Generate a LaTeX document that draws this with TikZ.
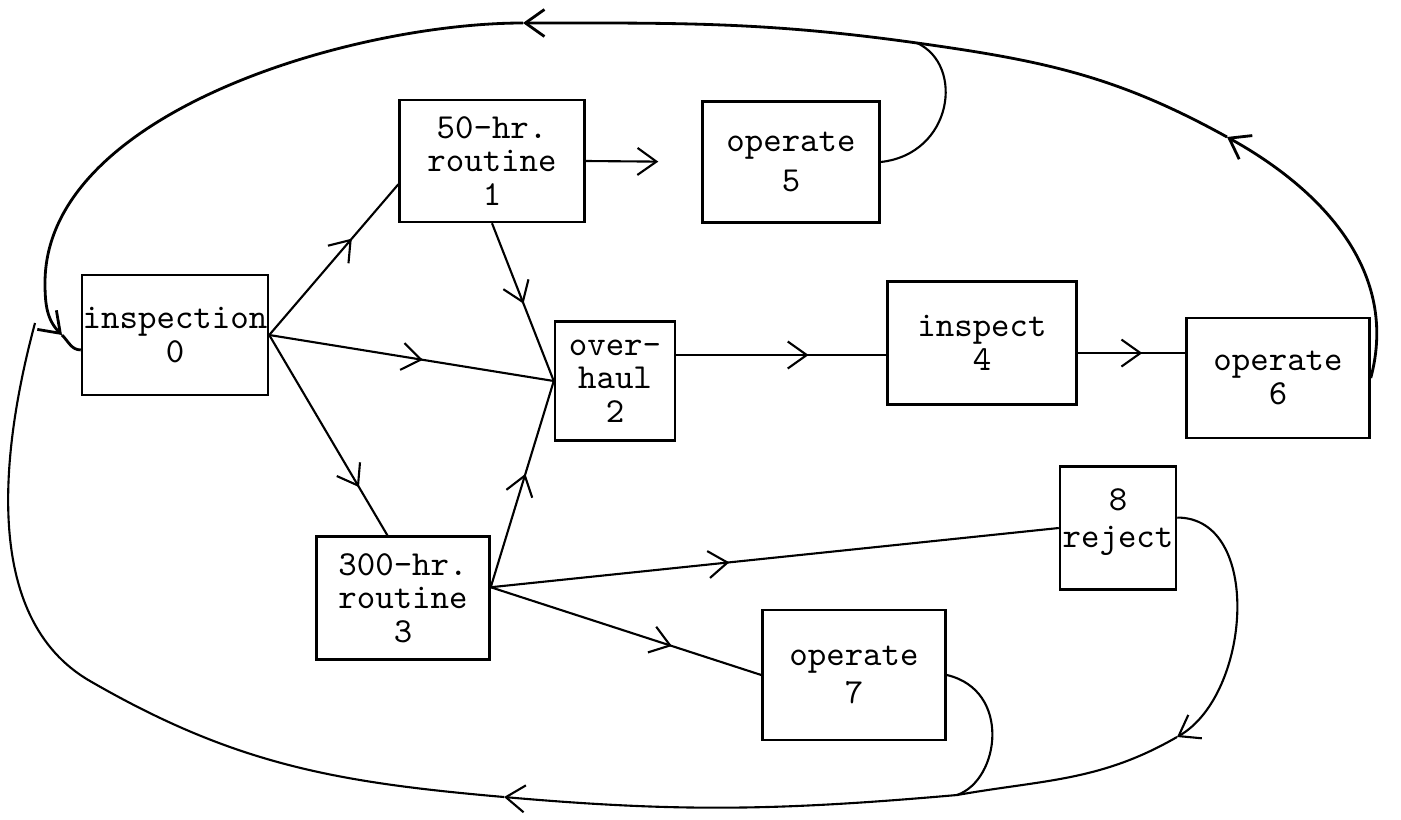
\documentclass[tikz,border=0pt]{standalone}
\usetikzlibrary{arrows.meta,decorations.markings}
\begin{document}
\begin{tikzpicture}[>={Straight Barb[length=1.9mm,width=2.7mm]},semithick,
box/.style={draw,line width=0.7pt,inner sep=0pt,align=center,font=\ttfamily\fontsize{10}{9.6}\selectfont},
tipat/.style={postaction={decorate,decoration={markings,mark=at position #1 with {\arrow{>}}}}}]
\useasboundingbox(0,0)rectangle(14.01,8.19);
\node[box,minimum width=1.86cm,minimum height=1.20cm](box0)at(1.75,4.84){inspection\\0};
\node[box,minimum width=1.85cm,minimum height=1.22cm](box1)at(4.92,6.58){50-hr.\\routine\\1};
\node[box,minimum width=1.77cm,minimum height=1.21cm](box5)at(7.91,6.57){operate\\[2pt]5};
\node[box,minimum width=1.20cm,minimum height=1.19cm](box2)at(6.15,4.38){over-\\haul\\2};
\node[box,minimum width=1.89cm,minimum height=1.23cm](box4)at(9.82,4.76){inspect\\4};
\node[box,minimum width=1.83cm,minimum height=1.20cm](box6)at(12.78,4.41){operate\\6};
\node[box,minimum width=1.16cm,minimum height=1.23cm](box8)at(11.18,2.91){8\\[1pt]reject\\[-4pt]~};
\node[box,minimum width=1.73cm,minimum height=1.23cm](box3)at(4.03,2.21){300-hr.\\routine\\3};
\node[box,minimum width=1.83cm,minimum height=1.30cm](box7)at(8.54,1.44){operate\\[1pt]7};
\coordinate(jtop)at(9.17,7.76);
\coordinate(jbot)at(9.57,0.24);
\coordinate(jleft)at(0.35,4.96);
\coordinate(ta)at(12.27,6.82);
\coordinate(tb)at(5.23,7.96);
\coordinate(tc)at(0.45,5.36);
\coordinate(td)at(0.62,4.84);
\coordinate(bb)at(11.77,0.82);
\coordinate(bc)at(5.04,0.22);
\coordinate(bd)at(0.90,1.38);

\draw[tipat=0.64](box0.east)--(box1.194);
\draw[tipat=0.54](box0.east)--(box2.west);
\draw[tipat=0.76](box0.east)--(box3.104);
\draw[tipat=0.51](box1.south)--(box2.west);
\draw[tipat=0.55](box3.7)--(box2.west);
\draw[tipat=0.42](box3.7)--(box8.west);
\draw[tipat=0.67](box3.7)--(box7.west);
\draw[tipat=0.63](box2.23)--(box4.west|-box2.23);
\draw[tipat=0.6](box4.354)--(box6.west|-box4.354);
\draw[->,shorten >=4.3mm](box1.east)--(box5.west);

\draw[thick,->](box6.east)to[out=75,in=-29](ta);
\draw[thick](ta)to[out=151,in=-8](jtop);
\draw[thick,->](jtop)to[out=172,in=0](tb);
\draw[thick](tb)to[out=180,in=90,looseness=0.8](tc);
\draw[thick,->](tc)to[out=-90,in=135](td);
\draw[thick](td)to[out=-45,in=180](box0.189);
\draw(box5.east)..controls+(0.72,0.08)and+(0.48,-0.22)..(jtop);

\draw[->](box8.10)to[out=0,in=30](bb);
\draw(bb)to[out=210,in=10](jbot);
\draw[->](jbot)to[out=185,in=-5](bc);
\draw(bc)to[out=175,in=-30](bd)to[out=150,in=-105,looseness=0.9](jleft);
\draw(box7.east)..controls+(0.65,-0.15)and+(0.43,0.15)..(jbot);
\end{tikzpicture}
\end{document}
